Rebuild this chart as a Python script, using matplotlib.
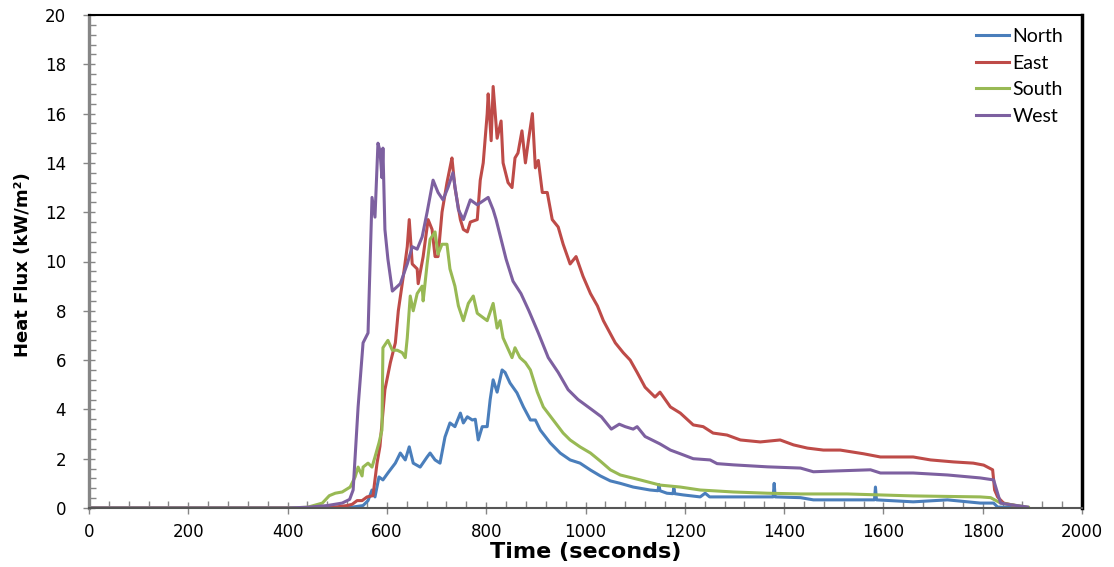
import numpy as np
import matplotlib
matplotlib.use("Agg")
import matplotlib.pyplot as plt
from matplotlib.ticker import MultipleLocator

# data (time in s, heat flux in kW/m2)
north_t = [0, 500, 532, 552, 562, 570, 576, 584, 592, 602, 617, 627, 637, 645, 653, 667,
           681, 687, 697, 707, 717, 727, 737, 748, 754, 762, 772, 778, 782, 784, 792, 802,
           808, 814, 822, 832, 838, 848, 862, 875, 889, 899, 909, 929, 949, 969, 989, 1010,
           1030, 1050, 1070, 1096, 1130, 1146, 1148, 1150, 1164, 1176, 1178, 1180, 1197,
           1231, 1241, 1250, 1298, 1366, 1378, 1380, 1382, 1433, 1459, 1527, 1582, 1584,
           1586, 1660, 1729, 1795, 1822, 1830, 1860, 1890]
north_q = [0, 0, 0.04, 0.1, 0.3, 0.73, 0.45, 1.26, 1.14, 1.42, 1.82, 2.23, 1.95, 2.48, 1.82, 1.66,
           2.07, 2.23, 1.95, 1.82, 2.88, 3.45, 3.3, 3.85, 3.45, 3.7, 3.57, 3.6, 3.04, 2.76, 3.3, 3.3,
           4.4, 5.2, 4.7, 5.6, 5.5, 5.07, 4.67, 4.1, 3.57, 3.57, 3.16, 2.64, 2.23, 1.95, 1.82, 1.54,
           1.3, 1.1, 1.0, 0.85, 0.73, 0.7, 0.95, 0.7, 0.6, 0.58, 0.8, 0.58, 0.53,
           0.45, 0.6, 0.45, 0.45, 0.45, 0.45, 1.0, 0.45, 0.42, 0.33, 0.33, 0.33, 0.85,
           0.33, 0.25, 0.33, 0.2, 0.2, 0.04, 0.02, 0]

east_t = [0, 440, 470, 500, 520, 530, 540, 550, 560, 572, 580, 586, 596, 607, 617, 623, 633,
          641, 645, 651, 661, 663, 673, 683, 691, 697, 703, 711, 721, 727, 731, 737, 748, 754,
          762, 768, 782, 788, 794, 802, 804, 810, 814, 822, 830, 834, 844, 852, 858, 864, 872,
          879, 885, 893, 899, 905, 913, 923, 933, 945, 955, 969, 981, 995, 1010, 1024, 1036,
          1044, 1060, 1076, 1090, 1104, 1120, 1140, 1150, 1171, 1191, 1217, 1237, 1257, 1285,
          1312, 1352, 1392, 1419, 1447, 1479, 1513, 1560, 1594, 1628, 1660, 1695, 1741, 1781,
          1802, 1820, 1824, 1830, 1842, 1870, 1890]
east_q = [0, 0, 0.02, 0.05, 0.1, 0.15, 0.3, 0.3, 0.45, 0.5, 1.8, 2.5, 4.8, 5.9, 6.7, 8.0, 9.4,
          10.6, 11.7, 9.9, 9.7, 9.1, 10.2, 11.7, 11.3, 10.2, 10.2, 12.0, 13.2, 13.8, 14.2, 13.0, 11.7, 11.3,
          11.2, 11.6, 11.7, 13.3, 14.0, 16.0, 16.8, 14.9, 17.1, 15.0, 15.7, 14.0, 13.2, 13.0, 14.2, 14.4, 15.3,
          14.0, 14.9, 16.0, 13.8, 14.1, 12.8, 12.8, 11.7, 11.4, 10.7, 9.9, 10.2, 9.4, 8.7, 8.2, 7.6,
          7.3, 6.7, 6.3, 6.0, 5.5, 4.9, 4.5, 4.7, 4.1, 3.85, 3.37, 3.3, 3.04, 2.96,
          2.76, 2.68, 2.76, 2.56, 2.43, 2.35, 2.35, 2.2, 2.07, 2.07, 2.07, 1.95, 1.87, 1.82,
          1.74, 1.55, 0.73, 0.45, 0.2, 0.08, 0.02]

south_t = [0, 400, 440, 470, 484, 496, 510, 526, 536, 542, 550, 552, 562, 570, 576, 584, 590,
           592, 602, 611, 621, 631, 637, 641, 647, 653, 661, 671, 673, 681, 687, 697, 703, 711,
           721, 727, 737, 744, 754, 764, 774, 782, 792, 802, 814, 822, 828, 834, 852, 858, 868,
           879, 889, 903, 915, 935, 955, 969, 989, 1010, 1030, 1050, 1070, 1110, 1150, 1191,
           1231, 1298, 1366, 1433, 1527, 1660, 1795, 1816, 1836, 1862, 1892]
south_q = [0, 0, 0.03, 0.2, 0.5, 0.6, 0.65, 0.85, 1.26, 1.66, 1.3, 1.66, 1.82, 1.66, 2.07, 2.64, 3.16,
           6.5, 6.8, 6.4, 6.4, 6.3, 6.1, 6.9, 8.6, 8.0, 8.7, 9.0, 8.4, 9.9, 10.9, 11.2, 10.3, 10.7,
           10.7, 9.7, 9.0, 8.2, 7.6, 8.3, 8.6, 7.9, 7.75, 7.6, 8.3, 7.3, 7.6, 6.9, 6.1, 6.5, 6.1,
           5.9, 5.6, 4.7, 4.1, 3.57, 3.04, 2.76, 2.48, 2.23, 1.9, 1.55, 1.34, 1.14, 0.93, 0.85,
           0.73, 0.65, 0.6, 0.57, 0.57, 0.49, 0.45, 0.42, 0.2, 0.12, 0.03]

west_t = [0, 400, 440, 480, 510, 525, 532, 542, 552, 562, 570, 576, 582, 586, 590, 592, 596,
          602, 611, 627, 641, 651, 661, 671, 681, 693, 703, 713, 723, 733, 744, 754, 768, 782,
          804, 814, 820, 830, 840, 854, 870, 886, 905, 925, 945, 965, 985, 1012, 1032, 1052,
          1068, 1080, 1096, 1104, 1120, 1150, 1171, 1191, 1217, 1251, 1265, 1298, 1366, 1433,
          1459, 1500, 1574, 1594, 1660, 1729, 1795, 1822, 1830, 1836, 1850, 1890]
west_q = [0, 0, 0.03, 0.1, 0.2, 0.35, 0.73, 4.1, 6.7, 7.1, 12.6, 11.8, 14.8, 14.5, 13.4, 14.6, 11.3,
          10.1, 8.8, 9.1, 9.9, 10.6, 10.5, 11.0, 12.0, 13.3, 12.8, 12.5, 13.0, 13.6, 12.1, 11.7, 12.5, 12.3,
          12.6, 12.1, 11.7, 10.9, 10.1, 9.2, 8.7, 8.0, 7.1, 6.1, 5.5, 4.8, 4.4, 4.0, 3.7, 3.2,
          3.4, 3.3, 3.2, 3.3, 2.9, 2.6, 2.35, 2.2, 2.0, 1.95, 1.8, 1.75, 1.67, 1.62,
          1.47, 1.5, 1.55, 1.42, 1.42, 1.34, 1.22, 1.14, 0.6, 0.2, 0.15, 0.04]

names = ["North", "East", "South", "West"]
colors = ["#4a7ebb", "#be4b48", "#98b954", "#7d60a0"]

fig = plt.figure(figsize=(11.14, 5.67), dpi=100)
ax = fig.add_axes([89 / 1114, 59 / 567, 993 / 1114, 493 / 567])

series = [(north_t, north_q), (east_t, east_q), (south_t, south_q), (west_t, west_q)]
for (t, q), name, c in zip(series, names, colors):
    ax.plot(t, q, color=c, lw=2.2, label=name, solid_joinstyle="round")

ax.set_xlim(0, 2000)
ax.set_ylim(0, 20)
ax.xaxis.set_major_locator(MultipleLocator(200))
ax.xaxis.set_minor_locator(MultipleLocator(40))
ax.yaxis.set_major_locator(MultipleLocator(2))
ax.yaxis.set_minor_locator(MultipleLocator(0.4))

ax.tick_params(which="major", direction="inout", length=9, width=1, color="#868686",
               labelsize=12)
ax.tick_params(which="minor", direction="in", length=5, width=1, color="#868686")
ax.tick_params(axis="x", which="major", pad=6)
ax.tick_params(axis="y", which="major", pad=12)

ax.spines["left"].set_color("#868686")
ax.spines["left"].set_linewidth(2.4)
ax.spines["bottom"].set_color("#555555")
ax.spines["bottom"].set_linewidth(1.5)
ax.spines["top"].set_color("black")
ax.spines["top"].set_linewidth(1.5)
ax.spines["right"].set_color("black")
ax.spines["right"].set_linewidth(2.5)

ax.set_xlabel("Time (seconds)", fontsize=16, fontweight="bold")
ax.set_ylabel("Heat Flux (kW/m²)", fontsize=13, fontweight="bold")
ax.xaxis.set_label_coords(0.5, -0.069)
ax.yaxis.set_label_coords(-0.0574, 0.493)

leg = ax.legend(loc="upper left", bbox_to_anchor=(0.893, 0.974), frameon=False,
                borderpad=0, borderaxespad=0,
                handlelength=1.7, handletextpad=0.2, labelspacing=0.5,
                prop={"family": "Lato", "size": 14})

fig.savefig("out.png", dpi=100)
